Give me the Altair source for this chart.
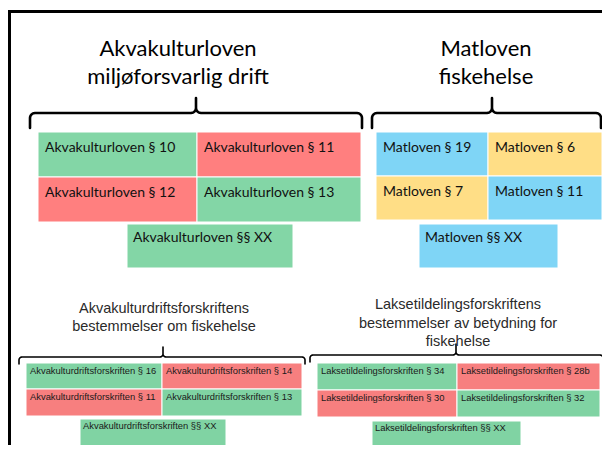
import altair as alt
import pandas as pd
import numpy as np

# ---------------- content ----------------
akva_labels = ["Akvakulturloven § 10", "Akvakulturloven § 11",
               "Akvakulturloven § 12", "Akvakulturloven § 13",
               "Akvakulturloven §§ XX"]
akva_colors = ["#83D6A6", "#FF7F7F", "#FF7F7F", "#83D6A6", "#83D6A6"]

mat_labels = ["Matloven § 19", "Matloven § 6", "Matloven § 7",
              "Matloven § 11", "Matloven §§ XX"]
mat_colors = ["#7FD5F6", "#FFDE86", "#FFDE86", "#7FD5F6", "#7FD5F6"]

drift_labels = ["Akvakulturdriftsforskriften § 16", "Akvakulturdriftsforskriften § 14",
                "Akvakulturdriftsforskriften § 11", "Akvakulturdriftsforskriften § 13",
                "Akvakulturdriftsforskriften §§ XX"]
drift_colors = ["#80D3A3", "#F77F7F", "#F77F7F", "#80D3A3", "#80D3A3"]

laks_labels = ["Laksetildelingsforskriften § 34", "Laksetildelingsforskriften § 28b",
               "Laksetildelingsforskriften § 30", "Laksetildelingsforskriften § 32",
               "Laksetildelingsforskriften §§ XX"]
laks_colors = ["#80D3A3", "#F77F7F", "#F77F7F", "#80D3A3", "#80D3A3"]

top_titles = [["Akvakulturloven", "miljøforsvarlig drift"], ["Matloven", "fiskehelse"]]
bottom_titles = [["Akvakulturdriftsforskriftens", "bestemmelser om fiskehelse"],
                 ["Laksetildelingsforskriftens", "bestemmelser av betydning for", "fiskehelse"]]

# ---------------- layout (page pixels) ----------------
W, H = 594, 437
X0, Y0 = 8, 8

groups = [
    dict(labels=akva_labels, colors=akva_colors, gx=[38, 197, 361], gy=[132, 177, 222],
         xx=[127, 293, 224, 268], dx=7, dy=20, xdy=18, part="top"),
    dict(labels=mat_labels, colors=mat_colors, gx=[376, 488, 602], gy=[132, 176, 220],
         xx=[419, 558, 224, 268], dx=7, dy=20, xdy=18, part="top"),
    dict(labels=drift_labels, colors=drift_colors, gx=[26, 162, 302], gy=[363, 389, 416],
         xx=[80, 226, 419, 446], dx=4, dy=11, xdy=10, part="bottom"),
    dict(labels=laks_labels, colors=laks_colors, gx=[317, 457, 600], gy=[363, 390, 417],
         xx=[372, 521, 421, 448], dx=4, dy=11, xdy=10, part="bottom"),
]

boxes = []
for g in groups:
    cells = [(0, 0), (1, 0), (0, 1), (1, 1)]
    for i, (c, r) in enumerate(cells):
        boxes.append(dict(x=g["gx"][c], x2=g["gx"][c + 1], y=g["gy"][r], y2=g["gy"][r + 1],
                          color=g["colors"][i], label=g["labels"][i],
                          tx=g["gx"][c] + g["dx"], ty=g["gy"][r] + g["dy"], part=g["part"]))
    xa, xb, ya, yb = g["xx"]
    boxes.append(dict(x=xa, x2=xb, y=ya, y2=yb, color=g["colors"][4], label=g["labels"][4],
                      tx=xa + g["dx"] - 1, ty=ya + g["xdy"], part=g["part"]))
box_df = pd.DataFrame(boxes)

# braces: (x_left, x_right, y_line, x_tip, y_tip, y_end, radius, width)
braces = [
    (30, 362, 113, 196, 98, 128, 5, 2.6),
    (372, 601, 113, 492, 98, 128, 5, 2.6),
    (19, 305, 357, 163, 347, 364, 3, 1.6),
    (310, 603, 355, 456, 344, 362, 3, 1.6),
]

def brace_points(xl, xr, y, xt, ytip, yend, r):
    pts = [(xl, yend)]
    a = np.linspace(np.pi, 1.5 * np.pi, 7)
    pts += [(xl + r + r * np.cos(t), y + r + r * np.sin(t)) for t in a]
    a = np.linspace(0.5 * np.pi, 0, 7)
    pts += [(xt - r + r * np.cos(t), y - r + r * np.sin(t)) for t in a]
    pts.append((xt, ytip))
    a = np.linspace(np.pi, 0.5 * np.pi, 7)
    pts += [(xt + r + r * np.cos(t), y - r + r * np.sin(t)) for t in a]
    a = np.linspace(1.5 * np.pi, 2 * np.pi, 7)
    pts += [(xr - r + r * np.cos(t), y + r + r * np.sin(t)) for t in a]
    pts.append((xr, yend))
    return pts

brace_rows = []
for bi, (xl, xr, y, xt, ytip, yend, r, sw) in enumerate(braces):
    for k, (px, py) in enumerate(brace_points(xl, xr, y, xt, ytip, yend, r)):
        brace_rows.append(dict(b=bi, o=k, x=px, y=py, sw=sw))
brace_df = pd.DataFrame(brace_rows)

title_rows = []
for (cx, ys), lines in zip([(178, [56, 84]), (486, [56, 84])], top_titles):
    for yy, t in zip(ys, lines):
        title_rows.append(dict(x=cx, y=yy, t=t))
top_title_df = pd.DataFrame(title_rows)

title_rows = []
for (cx, ys), lines in zip([(164, [313, 331]), (458, [309, 328, 346])], bottom_titles):
    for yy, t in zip(ys, lines):
        title_rows.append(dict(x=cx, y=yy, t=t))
bot_title_df = pd.DataFrame(title_rows)

frame_df = pd.DataFrame([dict(x=9.5, x2=700, y=11.5, y2=700)])

# ---------------- chart ----------------
xs = alt.Scale(domain=[X0, X0 + W], nice=False, zero=False)
ys = alt.Scale(domain=[Y0, Y0 + H], nice=False, zero=False, reverse=True)
X = lambda f: alt.X(f, type="quantitative", scale=xs, axis=None)
Y = lambda f: alt.Y(f, type="quantitative", scale=ys, axis=None)

frame = alt.Chart(frame_df).mark_rect(fill="white", stroke="black", strokeWidth=3, clip=True).encode(
    x=X("x"), x2="x2", y=Y("y"), y2="y2")

rects = alt.Chart(box_df).mark_rect(stroke="white", strokeWidth=1, clip=True).encode(
    x=X("x"), x2="x2", y=Y("y"), y2="y2",
    fill=alt.Fill("color:N", scale=None))

top_text = alt.Chart(box_df[box_df.part == "top"]).mark_text(
    align="left", baseline="alphabetic", font="Lato", fontSize=14, color="#111").encode(
    x=X("tx"), y=Y("ty"), text="label:N")

bot_text = alt.Chart(box_df[box_df.part == "bottom"]).mark_text(
    align="left", baseline="alphabetic", font="Liberation Sans", fontSize=9.4, color="#1a1a1a").encode(
    x=X("tx"), y=Y("ty"), text="label:N")

brace_layer = alt.Chart(brace_df).mark_line(color="black", strokeCap="round", strokeJoin="round",
                                            clip=True).encode(
    x=X("x"), y=Y("y"), detail="b:N", order="o:Q",
    strokeWidth=alt.StrokeWidth("sw:Q", scale=None))

ttl_top = alt.Chart(top_title_df).mark_text(
    align="center", baseline="alphabetic", font="Lato", fontSize=22, color="black").encode(
    x=X("x"), y=Y("y"), text="t:N")

ttl_bot = alt.Chart(bot_title_df).mark_text(
    align="center", baseline="alphabetic", font="Liberation Sans", fontSize=14.5, color="#2a2a2a").encode(
    x=X("x"), y=Y("y"), text="t:N")

chart = alt.layer(frame, rects, top_text, bot_text, brace_layer, ttl_top, ttl_bot).properties(
    width=W, height=H, padding=0, autosize=alt.AutoSizeParams(type="none"),
    background="white"
).configure_view(stroke=None)

chart.save("out.html", embed_options={"renderer": "svg", "actions": False})
